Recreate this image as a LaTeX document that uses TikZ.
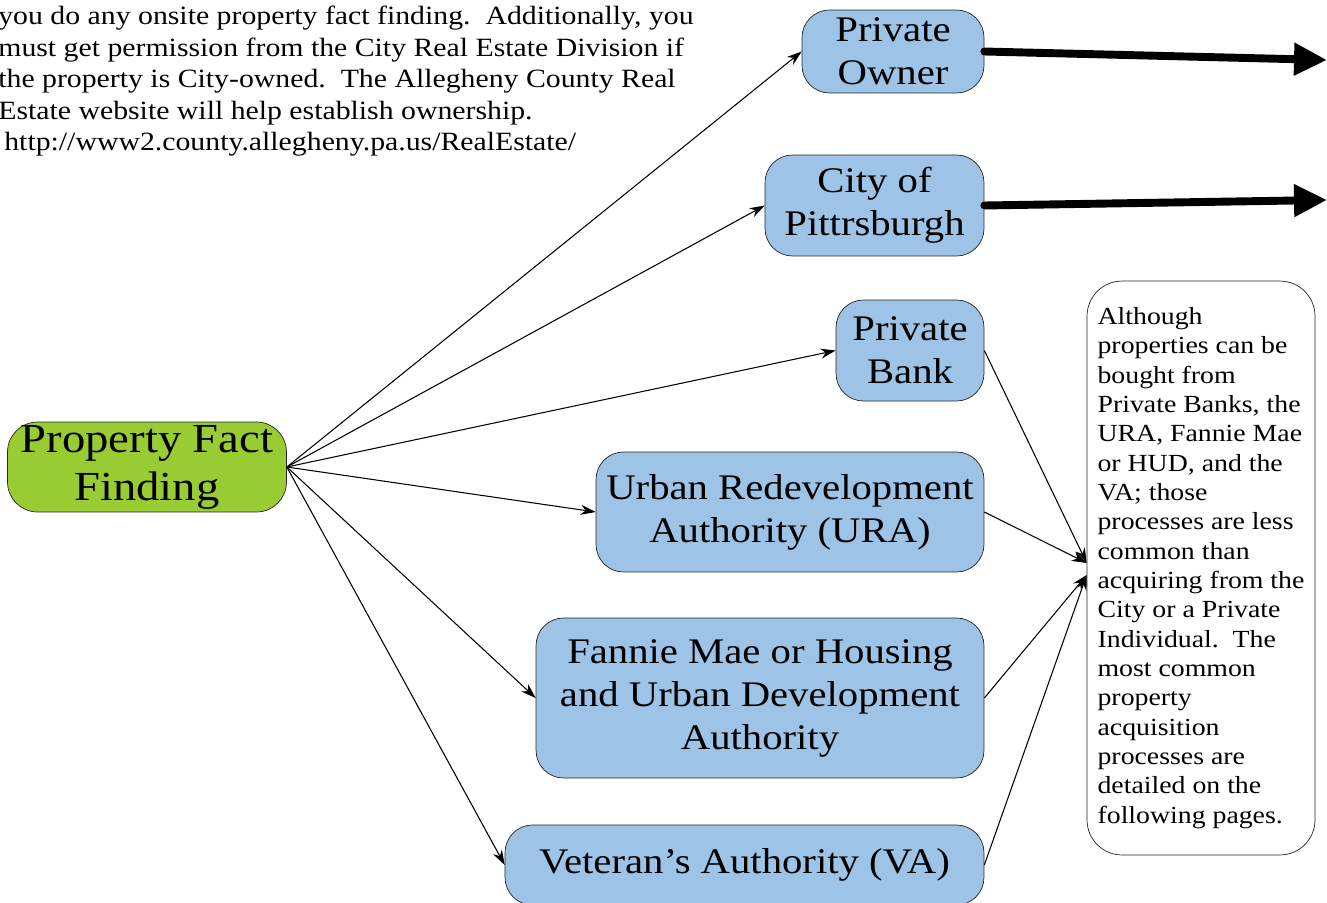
\documentclass[tikz,border=0pt]{standalone}
\usepackage{fontspec}
\setmainfont{Liberation Serif}[FakeStretch=1.13]
\usetikzlibrary{arrows.meta}

\definecolor{boxblue}{HTML}{9DC3E6}
\definecolor{boxgreen}{HTML}{99CC33}

\tikzset{
  bluebox/.style={draw=black!85, fill=boxblue, rounded corners=0.55cm, align=center, inner sep=0pt, font=\fontsize{20.5}{24.5}\selectfont},
  greenbox/.style={draw=black!85, fill=boxgreen, rounded corners=0.6cm, align=center, inner sep=0pt, font=\fontsize{23.5}{27.3}\selectfont},
  notebox/.style={draw=black!85, fill=white, rounded corners=0.7cm, align=left, inner sep=0pt, font=\fontsize{14}{16.7}\selectfont},
  thinarrow/.style={line width=0.6pt, -{Stealth[length=0.3cm,width=0.2cm]}},
  fatarrow/.style={line width=4.5pt, line cap=round, -{Triangle[length=0.66cm,width=0.62cm]}}
}

\begin{document}
\begin{tikzpicture}[x=0.02cm, y=-0.02cm]
  % 设置画布大小
  \useasboundingbox (0,0) rectangle (1327,902);

  % 左上角的说明文字
  \node[anchor=north west, align=left, inner sep=0pt, font=\fontsize{15}{17.9}\selectfont] (intro) at (-2,6)
    {you do any onsite property fact finding.\ \ Additionally, you\\
     must get permission from the City Real Estate Division if\\
     the property is City-owned.\ \ The Allegheny County Real\\
     Estate website will help establish ownership.\\
     \hspace{0.12cm}http://www2.county.allegheny.pa.us/RealEstate/};

  % 绘制主节点
  \node[greenbox, minimum width=5.58cm, minimum height=1.8cm] (fact) at (147,467) {Property Fact\\Finding};

  % 绘制右边的节点
  \node[bluebox, minimum width=3.64cm, minimum height=1.66cm] (owner) at (893,51.5) {Private\\Owner};
  \node[bluebox, minimum width=4.38cm, minimum height=2.02cm] (city) at (874.5,205.5) {City of\\Pittrsburgh};
  \node[bluebox, minimum width=2.96cm, minimum height=2.02cm] (bank) at (910,350.5) {Private\\Bank};
  \node[bluebox, minimum width=7.76cm, minimum height=2.4cm] (ura) at (790,512) {Urban Redevelopment\\Authority (URA)};
  \node[bluebox, minimum width=8.96cm, minimum height=3.2cm] (fannie) at (760,698) {Fannie Mae or Housing\\and Urban Development\\Authority};
  \node[bluebox, minimum width=9.58cm, minimum height=1.6cm] (va) at (744.5,865) {Veteran’s Authority (VA)};

  % 绘制注释框
  \node[notebox, minimum width=4.56cm, minimum height=11.48cm] (note) at (1201,568)
    {Although\\
     properties can be\\
     bought from\\
     Private Banks, the\\
     URA, Fannie Mae\\
     or HUD, and the\\
     VA; those\\
     processes are less\\
     common than\\
     acquiring from the\\
     City or a Private\\
     Individual.\ \ The\\
     most common\\
     property\\
     acquisition\\
     processes are\\
     detailed on the\\
     following pages.};

  % 箭头的终点
  \coordinate (noteA) at ([yshift=0.1cm]note.west);
  \coordinate (noteB) at ([yshift=-0.14cm]note.west);
  \coordinate (ownerOut) at (1327,60);
  \coordinate (cityOut) at (1327,200);

  % 从主节点出发的箭头
  \draw[thinarrow] (fact.east) -- (owner.west);
  \draw[thinarrow] (fact.east) -- (city.west);
  \draw[thinarrow] (fact.east) -- (bank.west);
  \draw[thinarrow] (fact.east) -- (ura.west);
  \draw[thinarrow] (fact.east) -- (fannie.west);
  \draw[thinarrow] (fact.east) -- (va.west);

  % 指向注释框的箭头
  \draw[thinarrow] (bank.east) -- (noteA);
  \draw[thinarrow] (ura.east) -- (noteA);
  \draw[thinarrow] (fannie.east) -- (noteB);
  \draw[thinarrow] (va.east) -- (noteB);

  % 粗箭头
  \draw[fatarrow] (owner.east) -- (ownerOut);
  \draw[fatarrow] (city.east) -- (cityOut);
\end{tikzpicture}
\end{document}
